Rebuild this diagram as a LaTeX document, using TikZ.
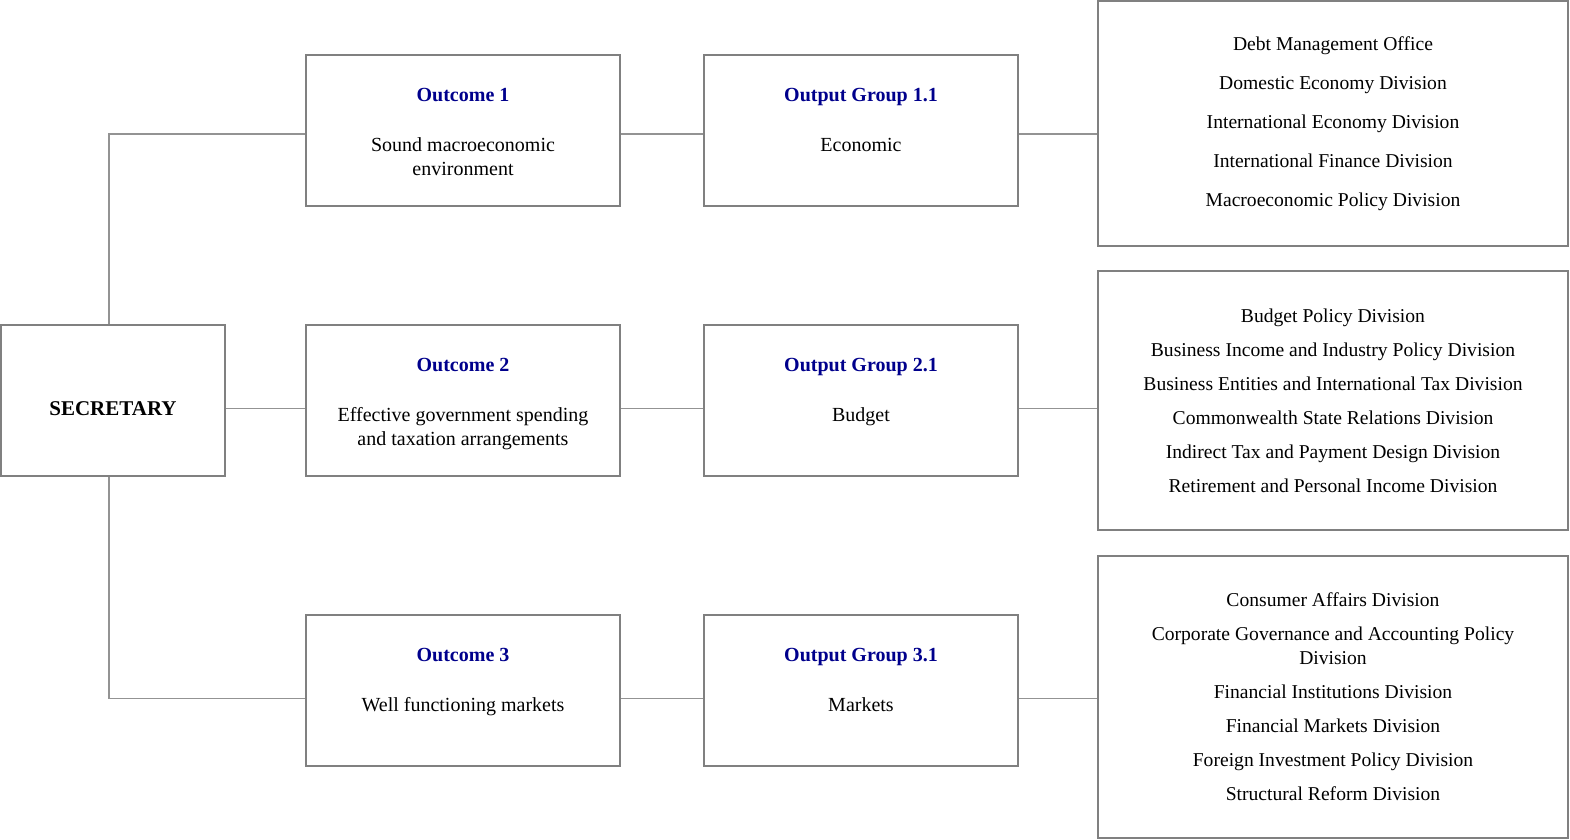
\documentclass[tikz,border=0pt]{standalone}
\usepackage{fontspec}
\setmainfont{Liberation Serif}
\usetikzlibrary{positioning}
\definecolor{titleblue}{RGB}{0,0,140}
\definecolor{boxgray}{RGB}{128,128,128}
\newcommand{\boxtitle}[1]{\rule{0pt}{11.5pt}{\bfseries\color{titleblue}#1}}

\begin{document}
\begin{tikzpicture}[
    x=0.5pt, y=-0.5pt,
    node distance=41pt,
    box/.style={rectangle, draw=boxgray, line width=1pt, minimum width=157pt, minimum height=75.5pt, align=center, inner sep=2pt, font=\fontsize{10}{12}\selectfont},
    secbox/.style={box, minimum width=112pt, text height=15pt, text depth=0pt, font=\bfseries\fontsize{10.5}{12}\selectfont},
    divbox/.style={box, minimum width=235pt, font=\fontsize{9.8}{12}\selectfont},
    link/.style={draw=boxgray!85, line width=0.8pt}
]
\useasboundingbox (0,0) rectangle (1570,840);

% Secretary
\node[secbox] (sec) at (113,400.5) {SECRETARY};

% Outcomes
\node[box] (oc1) at (463,130.5) {\boxtitle{Outcome 1}\\[13pt] Sound macroeconomic\\ environment\strut};
\node[box] (oc2) at (463,400.5) {\boxtitle{Outcome 2}\\[13pt] Effective government spending\\ and taxation arrangements\strut};
\node[box] (oc3) at (463,690.5) {\boxtitle{Outcome 3}\\[13pt] Well functioning markets\\ \mbox{}\strut};

% Output groups
\node[box, right=of oc1] (og1) {\boxtitle{Output Group 1.1}\\[13pt] Economic\\ \mbox{}\strut};
\node[box, right=of oc2] (og2) {\boxtitle{Output Group 2.1}\\[13pt] Budget\\ \mbox{}\strut};
\node[box, right=of oc3] (og3) {\boxtitle{Output Group 3.1}\\[13pt] Markets\\ \mbox{}\strut};

% Divisions
\node[divbox, minimum height=122.5pt] (dv1) at (1333,123.5) {Debt Management Office\\[7.5pt] Domestic Economy Division\\[7.5pt] International Economy Division\\[7.5pt] International Finance Division\\[7.5pt] Macroeconomic Policy Division};
\node[divbox, minimum height=129.5pt] (dv2) at (1333,400.5) {Budget Policy Division\\[5pt] Business Income and Industry Policy Division\\[5pt] Business Entities and International Tax Division\\[5pt] Commonwealth State Relations Division\\[5pt] Indirect Tax and Payment Design Division\\[5pt] Retirement and Personal Income Division};
\node[divbox, minimum height=141pt] (dv3) at (1333,697) {Consumer Affairs Division\\[5pt] Corporate Governance and Accounting Policy\\ Division\\[5pt] Financial Institutions Division\\[5pt] Financial Markets Division\\[5pt] Foreign Investment Policy Division\\[5pt] Structural Reform Division};

% Connector rows (lines sit a little below the box centres)
\coordinate (r1) at ([yshift=-1.9pt]og1.east);
\coordinate (r2) at ([yshift=-3.9pt]og2.east);
\coordinate (r3) at ([yshift=-3.9pt]og3.east);

% Connectors
\draw[link] ([xshift=-2pt]sec.north) |- ([yshift=-1.9pt]oc1.west);
\draw[link] ([yshift=-3.9pt]sec.east) -- ([yshift=-3.9pt]oc2.west);
\draw[link] ([xshift=-2pt]sec.south) |- ([yshift=-3.9pt]oc3.west);
\draw[link] ([yshift=-1.9pt]oc1.east) -- ([yshift=-1.9pt]og1.west);
\draw[link] ([yshift=-3.9pt]oc2.east) -- ([yshift=-3.9pt]og2.west);
\draw[link] ([yshift=-3.9pt]oc3.east) -- ([yshift=-3.9pt]og3.west);
\draw[link] (r1) -- (r1 -| dv1.west);
\draw[link] (r2) -- (r2 -| dv2.west);
\draw[link] (r3) -- (r3 -| dv3.west);

\end{tikzpicture}
\end{document}
